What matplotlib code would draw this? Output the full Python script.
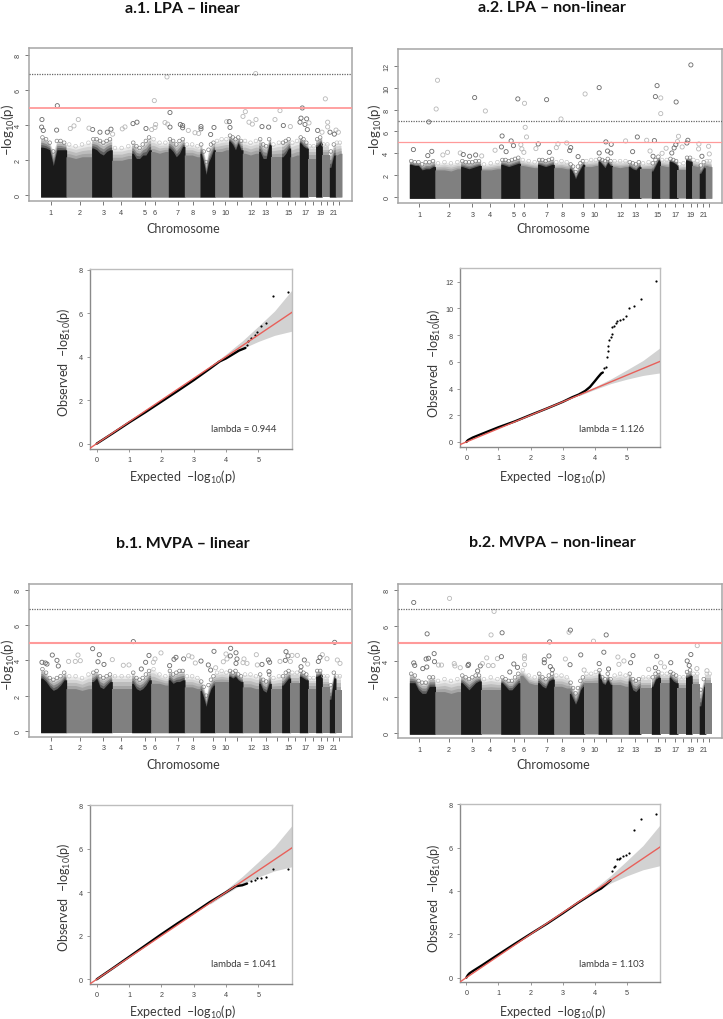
import matplotlib
matplotlib.use("Agg")
import matplotlib.pyplot as plt

W, H = 723, 1020

# genome axis, in units (chromosomes laid end to end)
chrom_edges = [0, 76, 153, 213, 273, 330, 383, 431, 478, 522, 564, 605, 654, 690, 723, 748, 776, 801, 825, 843, 866, 884, 902]
chrom_ticks = [30, 118, 188, 241, 313, 343, 411, 457, 518, 553, 588, 631, 675, 710, 742, 763, 794, 818, 840, 858, 878, 895]
chrom_labels = ["1", "2", "3", "4", "5", "6", "7", "8", "9", "10", "", "12", "13", "", "15", "", "17", "", "19", "", "21", ""]

# height of the solid mass along each chromosome
a1_dense = [[2.75, 2.7, 2.6, 1.7, 2.6, 2.6, 2.6], [2.2, 2.1, 2.2, 2.2], [2.7, 2.6, 2.4, 2.3, 2.5, 2.6], [2.0, 2.0, 2.1],
            [2.4, 2.1, 2.1, 2.3, 2.3, 2.6], [2.5, 2.4, 2.5], [2.7, 2.5, 2.2, 2.4, 2.8], [2.3, 2.3, 2.2],
            [2.4, 1.9, 1.2, 1.9, 2.2, 2.6], [2.5, 2.5, 2.6], [3.1, 2.9, 2.6, 3.0, 2.6], [2.4, 2.3, 2.4],
            [2.5, 2.1, 2.1, 2.9], [2.2, 2.2], [2.2, 2.4, 2.7], [2.2, 2.3], [3.0, 2.8, 2.7], [2.1, 2.1],
            [2.8, 3.0], [2.3, 2.3], [1.6, 2.3], [2.3, 2.4]]
a2_dense = [[3.0, 2.9, 2.9, 2.5, 2.6, 2.6, 2.8], [2.5, 2.5, 2.4, 2.6], [2.8, 2.7, 2.6, 2.7, 2.8, 2.9], [2.5, 2.5, 2.6],
            [3.0, 2.9, 2.8, 2.9, 3.0, 3.1], [2.9, 2.8, 2.7], [3.0, 2.9, 2.8, 2.9, 3.0], [2.7, 2.7, 2.6],
            [2.6, 2.3, 1.7, 2.2, 2.6, 3.0], [2.8, 2.8, 2.9], [3.3, 3.0, 2.7, 3.2, 2.9], [2.8, 2.7, 2.8],
            [2.8, 2.6, 2.5, 2.8], [2.6, 2.6], [2.4, 2.9, 3.4], [2.9, 2.8], [3.3, 3.2, 3.0], [2.5, 2.5],
            [3.4, 3.3], [2.9, 2.8], [2.2, 2.7], [2.9, 2.8]]
b1_dense = [[3.0, 2.8, 2.5, 2.3, 2.4, 2.6, 2.9], [2.4, 2.4, 2.3, 2.4], [2.8, 3.0, 2.5, 2.4, 2.6, 2.8], [2.4, 2.4, 2.4],
            [2.7, 2.4, 2.3, 2.4, 2.6, 2.9], [2.7, 2.7, 2.6], [2.9, 2.7, 2.8, 2.8, 2.9], [2.5, 2.5, 2.4],
            [2.3, 1.9, 1.4, 2.0, 2.4, 2.6], [2.8, 2.8, 2.8], [3.1, 3.0, 3.1, 2.9, 2.8], [2.5, 2.5, 2.4],
            [2.7, 2.3, 2.2, 2.7], [2.4, 2.4], [2.6, 2.8, 3.0], [2.7, 2.7], [3.1, 3.0, 2.9], [2.4, 2.4],
            [3.1, 3.2], [2.5, 2.5], [1.8, 3.0], [2.3, 2.3]]
b2_dense = [[2.8, 2.8, 2.4, 2.2, 2.2, 2.6, 2.6], [2.3, 2.3, 2.2, 2.3], [2.8, 2.6, 2.4, 2.6, 2.8, 2.9], [2.4, 2.4, 2.4],
            [2.8, 2.6, 2.4, 2.4, 2.6, 2.8], [3.2, 2.8, 2.7], [2.8, 2.6, 2.5, 2.9, 3.0], [2.6, 2.6, 2.5],
            [2.2, 1.9, 1.6, 1.9, 2.4, 2.6], [2.8, 2.8, 2.8], [3.3, 2.8, 2.7, 3.0, 2.7], [2.7, 2.7, 2.6],
            [2.9, 2.4, 2.3, 2.5], [2.5, 2.5], [2.6, 3.0, 3.1], [2.8, 2.8], [3.1, 2.9, 2.8], [2.5, 2.5],
            [3.1, 3.2], [2.7, 2.7], [1.5, 2.6], [2.8, 2.8]]

# top of the speckled band above the solid mass
a1_haze = [[3.3, 3.2, 3.0, 2.5, 3.1, 3.1, 3.0], [2.9, 2.8, 2.9, 3.0], [3.2, 3.2, 3.1, 3.0, 3.1, 3.2], [2.7, 2.7, 2.8],
           [3.0, 2.8, 2.7, 2.9, 3.1, 3.3], [3.2, 3.0, 3.0], [3.2, 3.1, 2.9, 3.1, 3.2], [2.9, 2.9, 2.8],
           [2.9, 2.5, 1.9, 2.6, 2.9, 3.0], [3.1, 3.2, 3.2], [3.4, 3.3, 3.2, 3.3, 3.1], [3.1, 3.0, 3.1],
           [3.2, 2.9, 2.8, 3.2], [2.9, 3.0], [3.0, 3.1, 3.2], [3.0, 3.1], [3.3, 3.2, 3.0], [2.8, 2.8],
           [3.2, 3.3], [2.9, 2.9], [2.5, 2.9], [3.0, 3.0]]
a2_haze = [[3.3, 3.2, 3.2, 3.0, 3.2, 3.2, 3.3], [3.1, 3.2, 3.1, 3.2], [3.3, 3.2, 3.2, 3.2, 3.3, 3.3], [3.0, 3.1, 3.2],
           [3.4, 3.4, 3.3, 3.4, 3.5, 3.6], [3.4, 3.3, 3.2], [3.4, 3.4, 3.3, 3.4, 3.5], [3.2, 3.3, 3.2],
           [3.0, 2.8, 2.3, 2.8, 3.1, 3.3], [3.3, 3.4, 3.4], [3.5, 3.4, 3.3, 3.5, 3.3], [3.3, 3.3, 3.3],
           [3.2, 3.1, 3.0, 3.2], [3.1, 3.2], [3.1, 3.4, 3.7], [3.4, 3.4], [3.5, 3.4, 3.3], [3.0, 3.1],
           [3.6, 3.6], [3.4, 3.3], [2.9, 3.2], [3.3, 3.3]]
b1_haze = [[3.5, 3.3, 3.0, 2.9, 3.0, 3.1, 3.3], [3.1, 3.1, 3.0, 3.2], [3.3, 3.4, 3.1, 3.0, 3.1, 3.2], [3.1, 3.1, 3.1],
           [3.3, 3.0, 2.9, 3.0, 3.2, 3.4], [3.5, 3.2, 3.1], [3.4, 3.2, 3.3, 3.4, 3.4], [3.1, 3.1, 3.0],
           [2.8, 2.5, 2.0, 2.6, 2.9, 3.1], [3.3, 3.4, 3.3], [3.4, 3.3, 3.4, 3.2, 3.1], [3.2, 3.2, 3.1],
           [3.2, 2.9, 2.8, 3.2], [3.0, 3.1], [3.1, 3.3, 3.4], [3.3, 3.3], [3.4, 3.3, 3.2], [3.0, 3.0],
           [3.4, 3.4], [3.1, 3.1], [2.6, 3.3], [3.1, 3.1]]
b2_haze = [[3.3, 3.2, 2.9, 2.8, 2.8, 3.1, 3.1], [2.9, 3.0, 2.9, 3.0], [3.2, 3.1, 3.0, 3.1, 3.2, 3.2], [3.0, 3.1, 3.0],
           [3.1, 3.0, 2.9, 2.9, 3.1, 3.3], [3.5, 3.2, 3.1], [3.3, 3.1, 3.0, 3.2, 3.3], [3.2, 3.2, 3.1],
           [2.8, 2.5, 2.2, 2.5, 2.9, 3.1], [3.3, 3.3, 3.4], [3.5, 3.1, 3.0, 3.3, 3.0], [3.2, 3.3, 3.2],
           [3.3, 3.0, 2.9, 3.0], [3.1, 3.1], [3.1, 3.3, 3.4], [3.3, 3.3], [3.4, 3.3, 3.2], [3.1, 3.1],
           [3.4, 3.5], [3.3, 3.3], [2.4, 3.0], [3.3, 3.3]]

# single SNPs standing clear of the mass
a1_x = [50, 341, 379, 645, 854, 785, 388, 4, 113, 289, 277, 345, 373, 381, 388, 419, 426, 426, 481, 481, 520, 558, 566, 568, 607, 614, 625, 635, 646, 664, 684, 703, 718, 728, 749, 781, 798, 793, 805, 778, 800, 831, 844, 861, 861, 868, 886, 893, 881, 3, 8, 48, 89, 100, 156, 145, 178, 200, 211, 216, 245, 253, 316, 333, 343, 443, 463, 510, 474]
a1_y = [5.11, 5.4, 6.75, 6.94, 5.5, 4.98, 4.72, 4.32, 4.32, 4.17, 4.09, 4.04, 4.15, 4.06, 3.89, 4.04, 3.98, 3.85, 3.92, 3.79, 3.87, 4.2, 4.2, 3.87, 4.5, 4.77, 4.17, 4.06, 4.32, 3.92, 3.89, 4.32, 4.83, 3.98, 3.92, 4.4, 4.36, 4.04, 4.13, 4.17, 3.75, 3.7, 3.6, 4.17, 3.9, 3.6, 3.72, 3.6, 3.49, 3.89, 3.7, 3.72, 3.81, 3.96, 3.75, 3.83, 3.6, 3.6, 3.77, 3.49, 3.79, 3.9, 3.81, 3.75, 3.87, 3.7, 3.57, 3.47, 3.53]
a2_x = [84, 80, 58, 12, 67, 55, 100, 114, 152, 161, 195, 180, 198, 216, 227, 256, 277, 275, 304, 311, 289, 324, 344, 346, 350, 333, 336, 342, 378, 385, 410, 418, 453, 444, 439, 470, 482, 479, 525, 504, 567, 567, 587, 603, 592, 602, 646, 681, 667, 709, 732, 735, 740, 751, 751, 719, 728, 767, 755, 797, 804, 801, 796, 791, 784, 815, 832, 829, 841, 865, 864, 894, 896, 874]
a2_y = [10.67, 8.05, 6.87, 4.35, 4.19, 3.8, 3.86, 4.1, 4.04, 3.9, 9.09, 3.74, 3.86, 3.77, 7.87, 4.29, 5.59, 4.59, 5.14, 4.71, 4.16, 8.97, 8.57, 6.38, 5.5, 4.8, 4.41, 4.1, 4.44, 4.86, 8.9, 4.1, 7.14, 4.86, 4.53, 4.95, 4.53, 4.26, 9.42, 3.71, 10.0, 4.04, 5.05, 4.83, 4.22, 4.04, 5.14, 5.5, 4.16, 5.2, 5.17, 9.18, 10.18, 9.06, 7.63, 4.22, 3.74, 4.47, 4.01, 8.69, 5.56, 5.08, 4.8, 4.5, 4.04, 4.59, 5.2, 4.95, 12.07, 4.86, 4.41, 4.65, 3.95, 3.74]
b1_x = [278, 882, 156, 35, 49, 112, 104, 84, 119, 176, 172, 215, 190, 265, 248, 315, 325, 302, 361, 343, 338, 387, 406, 400, 429, 444, 454, 464, 481, 503, 520, 510, 525, 548, 556, 559, 570, 569, 586, 589, 586, 610, 607, 619, 647, 650, 664, 683, 687, 685, 718, 734, 736, 742, 754, 749, 770, 781, 791, 801, 845, 838, 833, 859, 890, 898, 4, 14, 19, 53]
b1_y = [5.06, 5.02, 4.66, 4.3, 4.0, 4.3, 3.94, 3.94, 3.98, 4.32, 3.92, 4.04, 3.77, 3.74, 3.72, 3.89, 4.28, 3.51, 4.42, 4.08, 3.89, 3.7, 4.17, 4.06, 4.08, 4.26, 4.19, 3.85, 3.96, 3.74, 4.51, 3.45, 3.58, 3.92, 4.36, 4.08, 4.68, 4.25, 4.43, 4.08, 3.83, 4.08, 3.87, 3.83, 4.32, 3.74, 3.77, 4.02, 3.89, 3.36, 3.94, 4.0, 4.49, 4.25, 4.28, 3.94, 4.28, 3.64, 4.02, 3.79, 4.32, 4.17, 3.94, 4.09, 4.02, 3.83, 3.89, 3.85, 3.79, 3.68]
b2_x = [13, 120, 253, 244, 277, 53, 74, 50, 57, 13, 16, 40, 52, 75, 87, 96, 134, 136, 152, 175, 177, 212, 204, 231, 236, 250, 263, 275, 218, 312, 323, 300, 344, 344, 344, 419, 417, 403, 403, 421, 427, 466, 477, 481, 480, 512, 522, 550, 588, 581, 567, 595, 623, 626, 641, 668, 661, 739, 735, 751, 715, 781, 762, 860, 841, 830, 836, 859, 889]
b2_y = [7.3, 7.53, 6.8, 5.48, 5.6, 5.54, 4.43, 4.13, 4.17, 3.91, 3.77, 3.59, 3.68, 3.98, 3.79, 3.79, 3.87, 3.74, 3.64, 3.76, 3.83, 3.74, 3.46, 4.19, 3.76, 3.76, 4.15, 4.26, 3.87, 3.85, 3.66, 3.4, 4.3, 4.15, 3.81, 5.09, 4.3, 4.09, 3.92, 3.7, 3.53, 4.13, 5.63, 5.75, 3.81, 4.36, 3.51, 5.13, 5.48, 4.51, 3.87, 3.57, 4.24, 3.83, 4.02, 4.32, 3.92, 4.28, 3.64, 3.92, 3.55, 3.92, 3.68, 4.88, 4.38, 4.02, 3.77, 3.59, 3.47]

# QQ plots: the continuous run of points, then the separate dots of the tail
qa1_exp = [0, 0.5, 1, 1.5, 2, 2.5, 3, 3.5, 3.8, 4, 4.2, 4.4, 4.6]
qa1_obs = [0, 0.48, 0.97, 1.44, 1.93, 2.42, 2.92, 3.45, 3.78, 3.92, 4.1, 4.28, 4.4]
qa1_tail_x = [4.64, 4.69, 4.77, 4.88, 4.97, 5.07, 5.22, 5.44, 5.93]
qa1_tail_y = [4.54, 4.73, 4.84, 5.0, 5.15, 5.41, 5.53, 6.79, 6.96]
qa2_exp = [0, 0.05, 0.1, 0.2, 0.5, 1, 1.5, 2, 2.5, 3, 3.3, 3.5, 3.7, 3.85, 4, 4.1, 4.2, 4.25]
qa2_obs = [0, 0.13, 0.2, 0.33, 0.62, 1.1, 1.53, 2.02, 2.5, 3.0, 3.35, 3.55, 3.82, 4.12, 4.55, 4.85, 5.13, 5.2]
qa2_tail_x = [4.28, 4.34, 4.37, 4.4, 4.42, 4.45, 4.49, 4.52, 4.55, 4.6, 4.66, 4.7, 4.78, 4.87, 4.96, 5.06, 5.22, 5.44, 5.91]
qa2_tail_y = [5.5, 5.59, 6.39, 6.84, 7.16, 7.63, 7.83, 8.08, 8.58, 8.71, 8.9, 9.03, 9.1, 9.18, 9.43, 10.0, 10.18, 10.68, 12.07]
qb1_exp = [0, 0.5, 1, 1.5, 2, 2.5, 3, 3.5, 4, 4.3, 4.5, 4.65]
qb1_obs = [0, 0.51, 1.03, 1.55, 2.07, 2.57, 3.05, 3.55, 4.0, 4.28, 4.32, 4.4]
qb1_tail_x = [4.78, 4.89, 4.96, 5.08, 5.23, 5.44, 5.93]
qb1_tail_y = [4.5, 4.54, 4.66, 4.66, 4.71, 5.05, 5.06]
qb2_exp = [0, 0.05, 0.1, 0.2, 0.5, 1, 1.5, 2, 2.5, 3, 3.5, 4, 4.2, 4.5]
qb2_obs = [0, 0.12, 0.2, 0.3, 0.58, 1.07, 1.55, 2.02, 2.48, 2.97, 3.48, 3.95, 4.12, 4.5]
qb2_tail_x = [4.54, 4.6, 4.64, 4.69, 4.74, 4.79, 4.87, 4.96, 5.06, 5.22, 5.44, 5.91]
qb2_tail_y = [4.91, 5.11, 5.15, 5.49, 5.49, 5.52, 5.62, 5.65, 5.77, 6.8, 7.31, 7.54]

# confidence band, same in all QQ plots
band_x = [3.5, 4, 4.5, 5, 5.5, 6.03]
band_up = [3.55, 4.12, 4.72, 5.4, 6.1, 7.05]
band_lo = [3.45, 3.93, 4.37, 4.7, 4.98, 5.17]

plt.rcParams["font.family"] = ["Lato", "DejaVu Sans"]
plt.rcParams["mathtext.fontset"] = "custom"
plt.rcParams["mathtext.rm"] = "Lato"
plt.rcParams["mathtext.default"] = "rm"

INK = "#3a3a3a"
LOG10P = "\u2013log$_{10}$(p)"

fig = plt.figure(figsize=(W / 100, H / 100), dpi=100)


def box(x0, y0, x1, y1):
    return fig.add_axes([x0 / W, 1 - y1 / H, (x1 - x0) / W, (y1 - y0) / H])


def put(x, y, s, **kw):
    kw.setdefault("ha", "center")
    kw.setdefault("va", "center")
    kw.setdefault("color", INK)
    fig.text(x / W, 1 - y / H, s, **kw)


def tick_font(ax):
    for t in ax.get_xticklabels() + ax.get_yticklabels():
        t.set_family("Liberation Sans")


def manhattan(rect, ylim, yticks, dense, haze, xs, ys, red_lw):
    ax = box(*rect)
    for c, (d_bins, h_bins) in enumerate(zip(dense, haze)):
        left, right = chrom_edges[c], chrom_edges[c + 1]
        step = (right - left) / len(d_bins)
        mids = [left + (i + 0.5) * step for i in range(len(d_bins))]
        # overlap the next chromosome a little, or white seams show between them
        xp = [left] + mids + [right + 2]
        dp = [d_bins[0]] + d_bins + [d_bins[-1]]
        hp = [h_bins[0]] + h_bins + [h_bins[-1]]
        odd = c % 2 == 0
        solid = "#1a1a1a" if odd else "#808080"
        # the band thins out upwards, so stack it in fading layers
        for frac, alpha in [(1.0, 0.16), (0.75, 0.2), (0.5, 0.28), (0.25, 0.38)]:
            top = [d + frac * (h - d) for d, h in zip(dp, hp)]
            ax.fill_between(xp[:-1] + [right], -0.09, top, color=solid, alpha=alpha, linewidth=0, zorder=1)
        ax.fill_between(xp, -0.09, dp, color=solid, linewidth=0, zorder=2 + c * 0.001)
        edge = "#777777" if odd else "#c2c2c2"
        ax.scatter(mids, h_bins, s=7, facecolors="none", edgecolors=edge, linewidths=0.45, zorder=3)
    # outliers take the shade of the chromosome they sit on
    for x, y in zip(xs, ys):
        c = sum(1 for e in chrom_edges[1:-1] if e <= x)
        shade = "#6a6a6a" if c % 2 == 0 else "#b8b8b8"
        ax.scatter(x, y, s=9, facecolors="none", edgecolors=shade, linewidths=0.6, zorder=4)
    ax.axhline(6.93, color="#666666", lw=0.9, ls=(0, (1, 1)), zorder=5)
    ax.axhline(5, color="#ff9a9a", lw=red_lw, zorder=5)
    ax.set_xlim(-34, 934)
    ax.set_ylim(*ylim)
    ax.set_xticks(chrom_ticks, chrom_labels)
    ax.set_yticks(yticks, [str(t) for t in yticks], rotation=90, va="center")
    ax.tick_params(length=3, width=0.7, color="#777777", labelsize=5.2, labelcolor="#444444", pad=2.5)
    tick_font(ax)
    for s in ax.spines.values():
        s.set_color("#a6a6a6")
        s.set_linewidth(1.1)
    return ax


def qq(rect, xlim, ylim, yticks, exp, obs, tail_x, tail_y):
    ax = box(*rect)
    ax.fill_between(band_x, band_lo, band_up, color="#d2d2d2", linewidth=0, zorder=1)
    ax.plot(exp, obs, color="black", lw=1.7, solid_capstyle="round", zorder=2)
    ax.scatter(tail_x, tail_y, s=2.5, color="black", linewidths=0, zorder=2)
    ax.plot([-0.3, 6.1], [-0.3, 6.1], color="#e8605a", lw=1.0, zorder=3)
    ax.set_xlim(*xlim)
    ax.set_ylim(*ylim)
    ax.set_xticks(range(6), [str(t) for t in range(6)])
    ax.set_yticks(yticks, [str(t) for t in yticks])
    ax.tick_params(length=2, width=0.6, color="#888888", labelsize=5.2, labelcolor="#444444", pad=3)
    tick_font(ax)
    for side, s in ax.spines.items():
        s.set_color("#8a8a8a" if side in ("left", "bottom") else "#bdbdbd")
        s.set_linewidth(1.0)
    return ax


manhattan((29.3, 49.3, 352, 202), (-0.32, 8.38), [0, 2, 4, 6, 8], a1_dense, a1_haze, a1_x, a1_y, 1.3)
manhattan((398, 50, 722, 204), (-0.52, 13.52), [0, 2, 4, 6, 8, 10, 12], a2_dense, a2_haze, a2_x, a2_y, 0.9)
manhattan((29.3, 585, 352, 737.7), (-0.32, 8.32), [0, 2, 4, 6, 8], b1_dense, b1_haze, b1_x, b1_y, 1.5)
manhattan((398, 585.3, 722, 739.3), (-0.32, 8.32), [0, 2, 4, 6, 8], b2_dense, b2_haze, b2_x, b2_y, 1.5)

qq((90, 270, 291.7, 450), (-0.206, 6.03), (-0.245, 8.03), [0, 2, 4, 6, 8], qa1_exp, qa1_obs, qa1_tail_x, qa1_tail_y)
qq((460, 269.3, 660, 448.3), (-0.197, 6.03), (-0.4, 13.0), [0, 2, 4, 6, 8, 10, 12], qa2_exp, qa2_obs, qa2_tail_x, qa2_tail_y)
qq((90, 805.7, 291.7, 985), (-0.206, 6.03), (-0.214, 8.02), [0, 2, 4, 6, 8], qb1_exp, qb1_obs, qb1_tail_x, qb1_tail_y)
qq((460, 804.7, 660, 983.3), (-0.197, 6.03), (-0.215, 8.03), [0, 2, 4, 6, 8], qb2_exp, qb2_obs, qb2_tail_x, qb2_tail_y)

for x, y, s in [(182, 9, "a.1. LPA \u2013 linear"), (552, 8, "a.2. LPA \u2013 non-linear"),
                (183, 544, "b.1. MVPA \u2013 linear"), (552, 543, "b.2. MVPA \u2013 non-linear")]:
    put(x, y, s, fontsize=11.5, fontweight="bold", color="#111111")

for x, y in [(183, 229), (553, 229), (183, 765), (553, 765)]:
    put(x, y, "Chromosome", fontsize=9)

for x, y in [(8, 130), (375, 130), (8, 665), (375, 665)]:
    put(x, y, LOG10P, fontsize=9.5, rotation=90)

for x, y in [(183, 477), (553, 477), (183, 1012), (553, 1012)]:
    put(x, y, "Expected  " + LOG10P, fontsize=9)

for x, y in [(64, 362), (434, 363), (64, 897), (434, 898)]:
    put(x, y, "Observed  " + LOG10P, fontsize=9, rotation=90)

for x, y, s in [(244, 429, "lambda = 0.944"), (612, 429, "lambda = 1.126"),
                (244, 965, "lambda = 1.041"), (612, 965, "lambda = 1.103")]:
    put(x, y, s, fontsize=6.9)

fig.savefig("out.png", dpi=100)
plt.close(fig)
